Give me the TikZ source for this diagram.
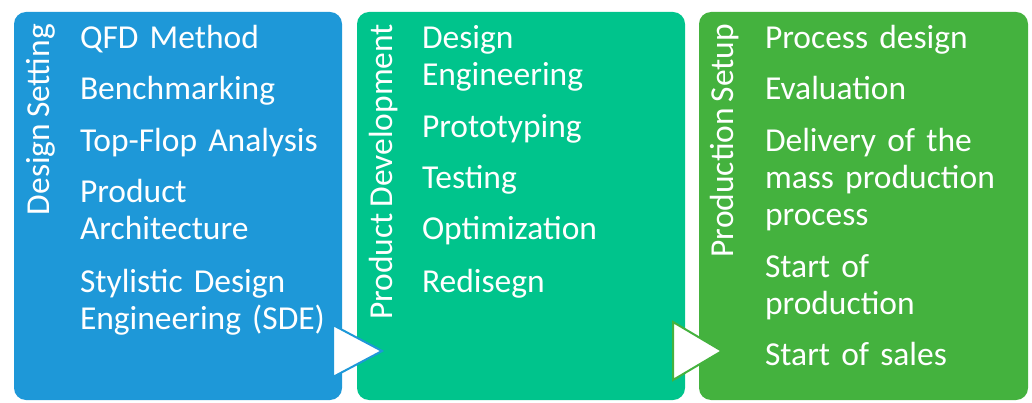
\documentclass[tikz,border=0pt]{standalone}
\usepackage{fontspec}
\setmainfont{Carlito}
\definecolor{setblue}{RGB}{30,152,216}
\definecolor{devgreen}{RGB}{0,196,140}
\definecolor{prodgreen}{RGB}{68,178,62}
\newcommand\phasefont{\fontsize{33.5}{37}\selectfont\spaceskip=0.17em plus 0.05em\relax}

\begin{document}
\begin{tikzpicture}[x=1pt, y=-1pt,
        every node/.style={text=white, inner sep=0pt, outer sep=0pt, font=\phasefont},
        phase/.style={rectangle, rounded corners=12pt, minimum width=328pt, minimum height=388pt, anchor=north west},
        title/.style={rotate=90, anchor=base east},
        item/.style={anchor=base west, text width=255pt, align=left},
        arrowhead/.style={fill=white, line width=2pt, line join=miter}]
        \useasboundingbox (0,0) rectangle (1032,403);

        % the three phases
        \node[phase, fill=setblue] (setting) at (14,12) {};
        \node[phase, fill=devgreen] (development) at (357,12) {};
        \node[phase, fill=prodgreen, minimum width=329pt] (production) at (699,12) {};

        % arrowheads between the phases
        \filldraw[arrowhead, draw=setblue] (333,325) -- (382,351) -- (333,377) -- cycle;
        \filldraw[arrowhead, draw=prodgreen] (673,322) -- (722,351) -- (673,380) -- cycle;

        % titles
        \node[title] (settingtitle) at (49,24) {Design Setting};
        \node[title] (devtitle) at (392,24) {Product Development};
        \node[title] (prodtitle) at (733,24) {Production Setup};

        % design setting
        \node[item] (qfd) at (80,49) {QFD Method};
        \node[item] (bench) at (80,100) {Benchmarking};
        \node[item] (topflop) at (80,152) {Top-Flop Analysis};
        \node[item] (arch) at (80,203) {Product\\Architecture};
        \node[item] (sde) at (80,292) {Stylistic Design\\Engineering (SDE)};

        % product development
        \node[item] (design) at (422,49) {Design\\Engineering};
        \node[item] (proto) at (422,138) {Prototyping};
        \node[item] (testing) at (422,189) {Testing};
        \node[item] (optim) at (422,240) {Optimization};
        \node[item] (redesign) at (422,292) {Redisegn};

        % production setup
        \node[item] (process) at (765,49) {Process design};
        \node[item] (eval) at (765,100) {Evaluation};
        \node[item] (delivery) at (765,152) {Delivery of the\\mass production\\process};
        \node[item] (sop) at (765,277) {Start of\\production};
        \node[item] (sales) at (765,365) {Start of sales};
    \end{tikzpicture}
\end{document}
